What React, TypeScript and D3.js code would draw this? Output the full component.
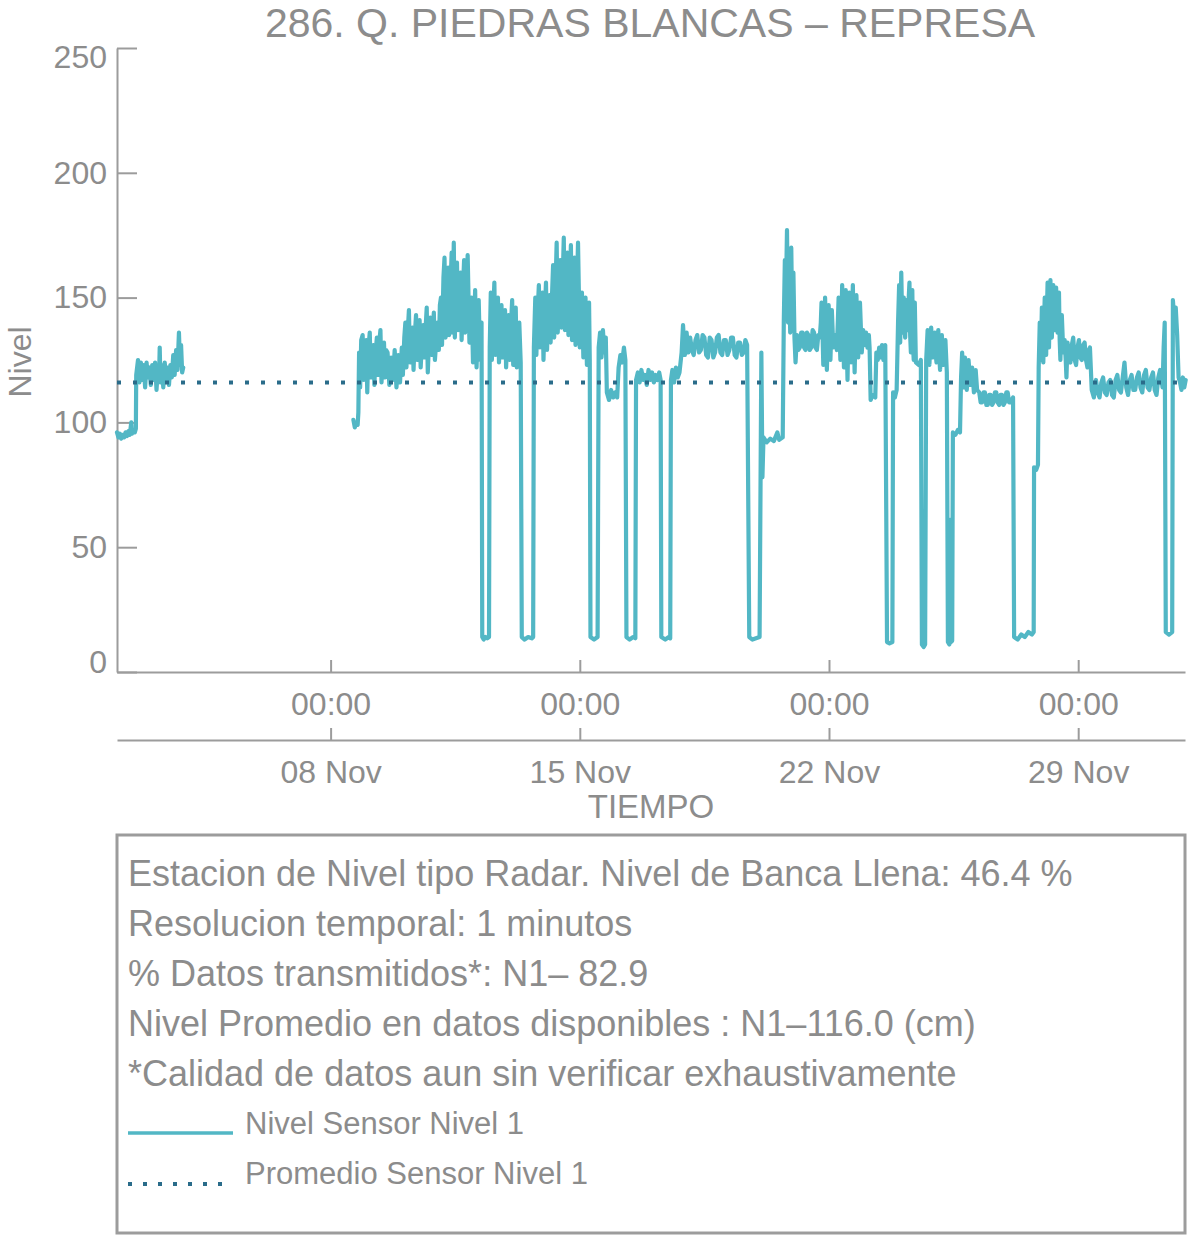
import React from "react";
import * as d3 from "d3";

// day of November (decimal) and level in cm; null marks the gap without data
const nivel: [number, number | null][] = [
  [2.0, 96], [2.04, 94], [2.08, 95.5], [2.12, 93.5], [2.16, 95], [2.2, 94], [2.24, 96], [2.28, 94.5],
  [2.32, 96.5], [2.36, 95], [2.4, 100], [2.42, 95.5], [2.46, 97], [2.5, 96], [2.53, 97.5],
  [2.54, 119], [2.59, 125], [2.63, 116], [2.67, 124], [2.71, 117], [2.75, 123], [2.79, 114], [2.83, 124],
  [2.87, 118], [2.91, 122], [2.95, 115], [2.99, 123], [3.03, 117], [3.07, 124], [3.11, 113], [3.15, 122],
  [3.18, 117], [3.2, 130], [3.22, 116], [3.26, 123], [3.3, 114], [3.34, 124], [3.38, 117], [3.42, 122],
  [3.46, 115], [3.5, 123], [3.54, 118], [3.58, 127], [3.62, 119], [3.66, 129], [3.7, 121], [3.74, 136],
  [3.77, 123], [3.8, 131], [3.83, 120], [3.86, 122],
  [3.87, null],
  [8.64, 101], [8.68, 98], [8.72, 100], [8.76, 99], [8.78, 104],
  [8.8, 128], [8.83, 114], [8.86, 133], [8.9, 135], [8.93, 117], [8.96, 130], [9.0, 133], [9.03, 112],
  [9.06, 129], [9.1, 136], [9.13, 118], [9.16, 128], [9.2, 131], [9.23, 115], [9.26, 127], [9.3, 134],
  [9.33, 119], [9.36, 131], [9.4, 137], [9.43, 116], [9.46, 126], [9.5, 132], [9.53, 118], [9.56, 129],
  [9.6, 128], [9.65, 115], [9.7, 126], [9.75, 117], [9.8, 129], [9.85, 114], [9.9, 127], [9.95, 116], [10.0, 130],
  [10.03, 119], [10.07, 134], [10.1, 140], [10.13, 122], [10.17, 137], [10.2, 145], [10.23, 124], [10.27, 133],
  [10.3, 138], [10.33, 121], [10.37, 136], [10.4, 143], [10.43, 125], [10.47, 132], [10.5, 141], [10.53, 122],
  [10.57, 134], [10.6, 139], [10.63, 126], [10.67, 138], [10.7, 146], [10.73, 120], [10.77, 135], [10.8, 142],
  [10.83, 127], [10.87, 137], [10.9, 144], [10.93, 125], [10.97, 133], [11.0, 140], [11.04, 129],
  [11.07, 147], [11.1, 150], [11.13, 131], [11.17, 158], [11.2, 166], [11.23, 134], [11.27, 150], [11.3, 162],
  [11.33, 135], [11.37, 155], [11.4, 168], [11.43, 136], [11.46, 172], [11.49, 134], [11.52, 152], [11.55, 164],
  [11.58, 137], [11.62, 149], [11.65, 160], [11.68, 133], [11.72, 154], [11.75, 165], [11.78, 136], [11.82, 151],
  [11.85, 167], [11.9, 132],
  [11.93, 141], [11.96, 150], [12.0, 124], [12.03, 138], [12.06, 153], [12.1, 122], [12.13, 136], [12.16, 149],
  [12.2, 125], [12.24, 140],
  [12.26, 14], [12.3, 13], [12.35, 14], [12.4, 13.5], [12.45, 14],
  [12.47, 130], [12.5, 152], [12.53, 125], [12.56, 141], [12.6, 156], [12.63, 127], [12.66, 139], [12.7, 150],
  [12.73, 124], [12.76, 136], [12.8, 147], [12.83, 126], [12.86, 135], [12.9, 145], [12.93, 122], [12.96, 133],
  [13.0, 143], [13.03, 125], [13.06, 137], [13.1, 149], [13.13, 123], [13.16, 134], [13.2, 146], [13.23, 122],
  [13.27, 132], [13.3, 140], [13.34, 124],
  [13.37, 14], [13.45, 13], [13.55, 14], [13.65, 13.5], [13.69, 14],
  [13.71, 130], [13.75, 150], [13.78, 127], [13.81, 142], [13.85, 155], [13.88, 130], [13.91, 144], [13.95, 152],
  [13.98, 125], [14.01, 141], [14.05, 156], [14.08, 129], [14.11, 143], [14.15, 151],
  [14.18, 132], [14.22, 151], [14.25, 163], [14.28, 134], [14.32, 155], [14.35, 172], [14.38, 136], [14.42, 153],
  [14.45, 165], [14.48, 138], [14.52, 157], [14.55, 174], [14.58, 137], [14.62, 154], [14.65, 168], [14.68, 135],
  [14.72, 156], [14.75, 171], [14.78, 133], [14.82, 152], [14.85, 166], [14.88, 131], [14.92, 153], [14.95, 172],
  [15.0, 130],
  [15.03, 141], [15.06, 152], [15.1, 126], [15.13, 139], [15.16, 150], [15.2, 123], [15.23, 137], [15.26, 148], [15.28, 125],
  [15.3, 14], [15.4, 13], [15.5, 14],
  [15.53, 130], [15.57, 136], [15.61, 126], [15.65, 137], [15.69, 128], [15.73, 134],
  [15.76, 112], [15.82, 109], [15.88, 113], [15.94, 110], [16.0, 112], [16.05, 110],
  [16.09, 122], [16.14, 127], [16.19, 124], [16.24, 130], [16.28, 125],
  [16.31, 14], [16.4, 13], [16.5, 14], [16.56, 13.5],
  [16.58, 117], [16.63, 120], [16.68, 116], [16.73, 121], [16.78, 117], [16.83, 119], [16.88, 115], [16.93, 121],
  [16.98, 117], [17.03, 120], [17.08, 116], [17.13, 119], [17.18, 117], [17.23, 120], [17.27, 117],
  [17.29, 14], [17.4, 13], [17.5, 14], [17.54, 13.5],
  [17.56, 117], [17.6, 121], [17.65, 116], [17.7, 122], [17.75, 118], [17.8, 120],
  [17.86, 128], [17.9, 139], [17.95, 127], [18.0, 136], [18.05, 128],
  [18.1, 134], [18.15, 129], [18.2, 127], [18.25, 133], [18.3, 135], [18.35, 128], [18.4, 129], [18.45, 135],
  [18.5, 134], [18.55, 127], [18.6, 126], [18.65, 134], [18.7, 133], [18.75, 126], [18.8, 128], [18.85, 134],
  [18.9, 135], [18.95, 128], [19.0, 127], [19.05, 133], [19.1, 133], [19.15, 127], [19.2, 129], [19.25, 134],
  [19.3, 134], [19.35, 127], [19.4, 126], [19.45, 132], [19.5, 132], [19.55, 127], [19.6, 128], [19.65, 133], [19.7, 131],
  [19.76, 14], [19.85, 13], [19.95, 13.5], [20.05, 14],
  [20.1, 128], [20.13, 78], [20.16, 94], [20.25, 92], [20.35, 93.5], [20.45, 92.5], [20.55, 96], [20.6, 93], [20.7, 94],
  [20.73, 140], [20.76, 165], [20.79, 150], [20.82, 177], [20.85, 140], [20.88, 168], [20.91, 136], [20.94, 170],
  [20.97, 138], [21.0, 160], [21.03, 134],
  [21.06, 124], [21.1, 135], [21.14, 129], [21.18, 130], [21.22, 136], [21.26, 136], [21.3, 130], [21.34, 129],
  [21.38, 136], [21.42, 135], [21.46, 129], [21.5, 130], [21.54, 137], [21.58, 136], [21.62, 130], [21.66, 129],
  [21.7, 135], [21.74, 134],
  [21.77, 140], [21.79, 148], [21.82, 135], [21.84, 123], [21.87, 138], [21.89, 150], [21.92, 134], [21.94, 121],
  [21.97, 136], [21.99, 147], [22.02, 133], [22.04, 125], [22.08, 145],
  [22.12, 130], [22.17, 135], [22.22, 129],
  [22.25, 141], [22.27, 150], [22.3, 134], [22.32, 125], [22.35, 142], [22.37, 155], [22.4, 136], [22.42, 122],
  [22.45, 140], [22.47, 153], [22.5, 131], [22.52, 117], [22.55, 139], [22.57, 152], [22.6, 135], [22.62, 124],
  [22.65, 143], [22.67, 155], [22.7, 133], [22.72, 120], [22.75, 139], [22.77, 151], [22.8, 137], [22.82, 126],
  [22.85, 138], [22.87, 148], [22.92, 128],
  [22.96, 137], [23.0, 131], [23.04, 136], [23.08, 130], [23.12, 135], [23.14, 130], [23.17, 109], [23.22, 111],
  [23.3, 110], [23.33, 128], [23.37, 125], [23.41, 130], [23.45, 126], [23.49, 131], [23.53, 125], [23.58, 131],
  [23.63, 12], [23.7, 11.5], [23.78, 12],
  [23.8, 112], [23.85, 110], [23.9, 113],
  [23.94, 140], [23.97, 155], [24.0, 132], [24.03, 160], [24.06, 136], [24.08, 147], [24.1, 150], [24.12, 138],
  [24.14, 134], [24.16, 145], [24.18, 149], [24.2, 139], [24.22, 137], [24.24, 150], [24.26, 156], [24.28, 135],
  [24.3, 128], [24.32, 146], [24.34, 153], [24.36, 131], [24.38, 125], [24.41, 148],
  [24.44, 124], [24.52, 123], [24.58, 125],
  [24.61, 11], [24.66, 10], [24.7, 11],
  [24.73, 125], [24.77, 137], [24.8, 128], [24.82, 123], [24.85, 133], [24.87, 138], [24.9, 129], [24.92, 126],
  [24.95, 134], [24.97, 136], [25.0, 127], [25.02, 124], [25.05, 132], [25.07, 137], [25.1, 126], [25.12, 121],
  [25.15, 131], [25.17, 135], [25.2, 127], [25.22, 123], [25.25, 130], [25.27, 133], [25.31, 120],
  [25.34, 12], [25.38, 11], [25.4, 61], [25.42, 12], [25.46, 12.5],
  [25.48, 96], [25.55, 95], [25.62, 97], [25.68, 96],
  [25.71, 118], [25.74, 128], [25.78, 114], [25.82, 126], [25.87, 113], [25.92, 125], [25.97, 115], [26.02, 122],
  [26.07, 112], [26.12, 121], [26.16, 113],
  [26.22, 112], [26.26, 108], [26.3, 108], [26.34, 112], [26.38, 112], [26.42, 107], [26.46, 107], [26.5, 111],
  [26.54, 111], [26.58, 107], [26.62, 108], [26.66, 112], [26.7, 112], [26.74, 108], [26.78, 107], [26.82, 111],
  [26.86, 111], [26.9, 107], [26.94, 108], [26.98, 112], [27.02, 112], [27.06, 108], [27.1, 108], [27.17, 110],
  [27.2, 14], [27.3, 13], [27.4, 15], [27.5, 14], [27.6, 16], [27.7, 15], [27.75, 16],
  [27.76, 82], [27.82, 81], [27.87, 83],
  [27.89, 122], [27.92, 140], [27.95, 125], [27.98, 146], [28.0, 130], [28.02, 124], [28.04, 139], [28.06, 150],
  [28.08, 133], [28.1, 127], [28.12, 143], [28.14, 156], [28.16, 138], [28.18, 130], [28.2, 146], [28.22, 157],
  [28.24, 140], [28.26, 134], [28.28, 147], [28.3, 155], [28.32, 141], [28.34, 137], [28.36, 146], [28.38, 154],
  [28.4, 140], [28.42, 136], [28.44, 145], [28.46, 152], [28.48, 133], [28.5, 125], [28.52, 136], [28.54, 143],
  [28.58, 128],
  [28.62, 133], [28.65, 125], [28.67, 118], [28.7, 132], [28.74, 126], [28.78, 124], [28.82, 131], [28.86, 134],
  [28.9, 125], [28.94, 123], [28.98, 130], [29.02, 133], [29.06, 126], [29.1, 125], [29.14, 131], [29.18, 132],
  [29.22, 125], [29.26, 122], [29.3, 129], [29.33, 130],
  [29.38, 113], [29.44, 110],
  [29.5, 117], [29.55, 112], [29.6, 110], [29.65, 116], [29.7, 118], [29.75, 112], [29.8, 111], [29.85, 116],
  [29.9, 117], [29.95, 111], [30.0, 110], [30.05, 117], [30.1, 119], [30.15, 113], [30.2, 112], [30.25, 118],
  [30.3, 124], [30.35, 114], [30.4, 111], [30.45, 117], [30.5, 119], [30.55, 113], [30.6, 113], [30.65, 118],
  [30.7, 120], [30.75, 114], [30.8, 112], [30.85, 119], [30.9, 121], [30.95, 114], [31.0, 113], [31.05, 118],
  [31.1, 120], [31.15, 113], [31.2, 111], [31.25, 118], [31.3, 121], [31.37, 114],
  [31.4, 130], [31.43, 140], [31.46, 16], [31.55, 15], [31.64, 16], [31.66, 149], [31.7, 141], [31.74, 146],
  [31.78, 135], [31.82, 118],
  [31.86, 116], [31.9, 113], [31.94, 118], [31.98, 114], [32.02, 117],
];

const promedio = 116.0;
const yTicks = [0, 50, 100, 150, 200, 250];
const xTickDays = [8, 15, 22, 29];
const dominio = [2, 32];

const titulo = "286. Q. PIEDRAS BLANCAS \u2013 REPRESA";
const infoLines = [
  "Estacion de Nivel tipo Radar. Nivel de Banca Llena: 46.4 %",
  "Resolucion temporal: 1 minutos",
  "% Datos transmitidos*: N1\u2013 82.9",
  "Nivel Promedio en datos disponibles : N1\u2013116.0 (cm)",
  "*Calidad de datos aun sin verificar exhaustivamente",
];
const legendLabels = ["Nivel Sensor Nivel 1", "Promedio Sensor Nivel 1"];

const toDate = (day: number) => new Date(Date.UTC(2023, 10, 1) + (day - 1) * 864e5);

const FONT = "'Liberation Sans', Arial, Helvetica, sans-serif";
const TEXT = "#8c8c8c";
const AXIS = "#9c9c9c";
const LINE = "#52b7c5";
const MEAN = "#2a6c8a";

const App: React.FC = () => {
  const svgRef = React.useRef<SVGSVGElement | null>(null);

  React.useEffect(() => {
    if (!svgRef.current) return;
    const svg = d3.select(svgRef.current);
    svg.selectAll("*").remove();

    const left = 117;
    const right = 1185;
    const top = 48;
    const bottom = 672;

    const x = d3.scaleUtc().domain(dominio.map(toDate)).range([left, right]);
    const y = d3.scaleLinear().domain([0, 250]).range([bottom, top]);

    const styleAxis = (g: d3.Selection<SVGGElement, unknown, null, undefined>, size: number) => {
      g.attr("font-family", FONT).attr("font-size", size);
      g.selectAll("path, line").attr("stroke", AXIS).attr("stroke-width", 2);
      g.selectAll("text").attr("fill", TEXT);
    };

    // title
    svg.append("text")
      .attr("x", 650).attr("y", 37)
      .attr("text-anchor", "middle")
      .attr("font-family", FONT).attr("font-size", 41).attr("fill", TEXT)
      .text(titulo);

    // y axis (end labels pulled inside the plot range)
    const gy = svg.append("g").attr("transform", `translate(${left},0)`)
      .call(d3.axisLeft(y).tickValues(yTicks).tickSize(-20).tickSizeOuter(0).tickPadding(10));
    styleAxis(gy, 32);
    gy.selectAll<SVGTextElement, number>("text")
      .attr("y", (d) => (d === 250 ? 9 : d === 0 ? -10 : 0));

    // x axes: hours and days
    const tickDates = xTickDays.map(toDate);
    const gx1 = svg.append("g").attr("transform", `translate(0,${bottom})`)
      .call(d3.axisBottom(x).tickValues(tickDates).tickSize(-12).tickSizeOuter(0).tickPadding(20)
        .tickFormat((d) => d3.utcFormat("%H:%M")(d as Date)));
    styleAxis(gx1, 32);

    const gx2 = svg.append("g").attr("transform", `translate(0,740)`)
      .call(d3.axisBottom(x).tickValues(tickDates).tickSize(-12).tickSizeOuter(0).tickPadding(20)
        .tickFormat((d) => d3.utcFormat("%d %b")(d as Date)));
    styleAxis(gx2, 32);

    svg.append("text")
      .attr("x", 651).attr("y", 818).attr("text-anchor", "middle")
      .attr("font-family", FONT).attr("font-size", 33).attr("fill", TEXT)
      .text("TIEMPO");

    svg.append("text")
      .attr("transform", `translate(31,362) rotate(-90)`)
      .attr("text-anchor", "middle")
      .attr("font-family", FONT).attr("font-size", 32).attr("fill", TEXT)
      .text("Nivel");

    // series
    const line = d3.line<[number, number | null]>()
      .defined((d) => d[1] !== null)
      .x((d) => x(toDate(d[0])))
      .y((d) => y(d[1] as number));

    svg.append("path")
      .datum(nivel)
      .attr("d", line)
      .attr("fill", "none")
      .attr("stroke", LINE)
      .attr("stroke-width", 4.2)
      .attr("stroke-linejoin", "round")
      .attr("stroke-linecap", "round");

    svg.append("line")
      .attr("x1", left).attr("x2", right)
      .attr("y1", y(promedio)).attr("y2", y(promedio))
      .attr("stroke", MEAN).attr("stroke-width", 4)
      .attr("stroke-dasharray", "4 12");

    // info box
    svg.append("rect")
      .attr("x", 117).attr("y", 835).attr("width", 1068).attr("height", 398)
      .attr("fill", "none").attr("stroke", AXIS).attr("stroke-width", 3);

    svg.append("g").selectAll("text").data(infoLines).join("text")
      .attr("x", 128).attr("y", (_, i) => 886 + i * 50)
      .attr("font-family", FONT).attr("font-size", 36).attr("fill", TEXT)
      .text((d) => d);

    svg.append("line")
      .attr("x1", 128).attr("x2", 233).attr("y1", 1133).attr("y2", 1133)
      .attr("stroke", LINE).attr("stroke-width", 3.5);
    svg.append("line")
      .attr("x1", 128).attr("x2", 232).attr("y1", 1184).attr("y2", 1184)
      .attr("stroke", MEAN).attr("stroke-width", 4).attr("stroke-dasharray", "4 11");

    svg.append("g").selectAll("text").data(legendLabels).join("text")
      .attr("x", 245).attr("y", (_, i) => 1134 + i * 50)
      .attr("font-family", FONT).attr("font-size", 31).attr("fill", TEXT)
      .text((d) => d);
  }, []);

  return (
    <svg
      ref={svgRef}
      width={1188}
      height={1236}
      style={{ position: "absolute", left: 0, top: 0, background: "#fff" }}
    />
  );
};

export default App;
